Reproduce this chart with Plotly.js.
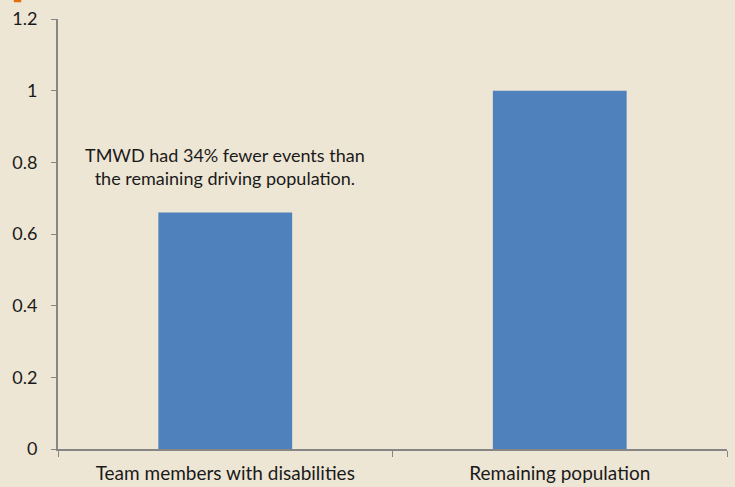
<!DOCTYPE html>
<html><head><meta charset="utf-8">
<script src="https://cdn.plot.ly/plotly-3.0.1.min.js"></script>
<style>html,body{margin:0;padding:0;background:#EEE6D5;}#c{width:735px;height:487px;}</style>
</head><body><div id="c"></div>
<script>
const categories = ["Team members with disabilities", "Remaining population"];
const values = [0.66, 1.0];
const yTicks = [0, 0.2, 0.4, 0.6, 0.8, 1, 1.2];
const yTickLabels = ["0", "0.2", "0.4", "0.6", "0.8", "1", "1.2"];
const note = "TMWD had 34% fewer events than<br>the remaining driving population.";

const font = "Lato, 'Open Sans', sans-serif";
Plotly.newPlot("c", [{
  type: "bar", x: categories, y: values,
  marker: {color: "#4F81BD"}, hoverinfo: "none"
}], {
  width: 735, height: 487,
  margin: {l: 58, r: 8, t: 19, b: 38},
  paper_bgcolor: "#EEE6D5", plot_bgcolor: "#EEE6D5",
  bargap: 0.6,
  font: {family: font, size: 18, color: "#1a1a1a"},
  showlegend: false,
  xaxis: {showline: true, linecolor: "#868686", linewidth: 2, ticks: "outside", tickson: "boundaries",
          ticklen: 6, tickcolor: "#868686", tickwidth: 1, showgrid: false, zeroline: false,
          tickfont: {size: 19}, ticklabelstandoff: 6, fixedrange: true},
  yaxis: {range: [0, 1.2], tickvals: yTicks, ticktext: yTickLabels, showline: true, linecolor: "#868686",
          linewidth: 2, ticks: "outside", ticklen: 5, tickcolor: "#868686", showgrid: false, zeroline: false,
          tickfont: {size: 18}, ticklabelstandoff: 10},
  annotations: [{xref: "paper", yref: "paper", x: 0.25, y: 0.657, text: note, showarrow: false,
                 font: {size: 18, color: "#1a1a1a"}, align: "center", xanchor: "center", yanchor: "middle"}],
  shapes: [{type: "rect", xref: "paper", yref: "paper", x0: -0.066, x1: -0.055, y0: 1.039, y1: 1.045,
            fillcolor: "#E46C0A", line: {width: 0}}]
}, {displayModeBar: false, staticPlot: true});
</script></body></html>
